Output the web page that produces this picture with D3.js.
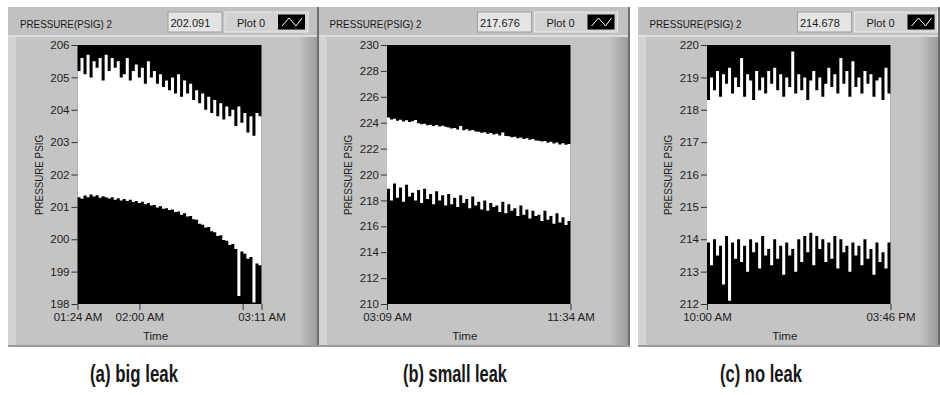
<!DOCTYPE html>
<html>
<head>
<meta charset="utf-8">
<title>Pressure leak charts</title>
<script src="https://cdn.jsdelivr.net/npm/d3@7/dist/d3.min.js"></script>
<style>
  body { margin: 0; background: #ffffff; }
  svg { display: block; font-family: "Liberation Sans", Arial, sans-serif; }
</style>
</head>
<body>
<svg id="chart" width="940" height="395"></svg>
<script>
  // Values: for each time slot the top and
  // bottom of the (very noisy) white trace, in PSIG.
  const bigHigh = [
    205.2, 205.6, 205.1, 205.7, 205.0, 205.5, 205.3, 205.6, 204.9, 205.7,
    205.2, 205.6, 205.3, 205.5, 205.0, 205.1, 205.6, 204.9, 205.2, 205.4,
    205.0, 205.3, 204.8, 205.5, 205.0, 205.2, 204.8, 205.1, 204.7, 204.9,
    204.6, 205.0, 204.5, 205.1, 204.4, 204.9, 204.5, 204.8, 204.3, 204.6,
    204.2, 204.5, 204.0, 204.4, 203.9, 204.3, 203.8, 204.2, 203.7, 204.1,
    203.8, 204.0, 203.5, 204.1, 203.6, 203.9, 203.3, 203.8, 203.2, 203.9,
    203.8
  ];
  const bigLow = [
    201.30, 201.25, 201.35, 201.30, 201.38, 201.32, 201.36, 201.28, 201.33, 201.30,
    201.26, 201.30, 201.22, 201.27, 201.20, 201.24, 201.18, 201.22, 201.15, 201.18,
    201.12, 201.16, 201.08, 201.12, 201.04, 201.06, 200.98, 201.02, 200.94, 200.96,
    200.90, 200.92, 200.84, 200.86, 200.76, 200.80, 200.70, 200.72, 200.62, 200.60,
    200.48, 200.45, 200.36, 200.38, 200.25, 200.22, 200.10, 200.12, 199.98, 199.95,
    199.82, 199.85, 199.70, 198.25, 199.62, 199.55, 199.40, 199.45, 198.05, 199.25,
    199.20
  ];
  const smallHigh = [
    224.40, 224.25, 224.30, 224.15, 224.22, 224.10, 224.18, 224.05, 224.12, 224.20,
    223.95, 223.88, 223.92, 223.80, 223.85, 223.75, 223.82, 223.70, 223.76, 223.68,
    223.62, 223.55, 223.60, 223.48, 223.75, 223.42, 223.50, 223.38, 223.44, 223.32,
    223.30, 223.22, 223.27, 223.15, 223.20, 223.08, 223.14, 223.02, 223.25, 222.98,
    222.95, 222.88, 222.92, 222.80, 222.86, 222.74, 222.80, 222.68, 222.75, 222.62,
    222.60, 222.55, 222.58, 222.45, 222.52, 222.40, 222.47, 222.32, 222.42, 222.30,
    222.35
  ];
  const smallLow = [
    218.9, 218.0, 219.3, 218.2, 219.0, 217.9, 219.2, 218.3, 218.6, 218.0,
    218.8, 217.8, 218.9, 218.1, 218.5, 217.7, 218.7, 218.0, 218.4, 217.6,
    218.5, 217.7, 218.2, 217.5, 218.4, 217.8, 218.1, 217.4, 218.3, 217.6,
    217.9, 217.3, 218.0, 217.2, 217.8, 217.5, 217.6, 217.1, 217.9, 217.0,
    217.7, 217.2, 217.4, 216.8, 217.6, 216.9, 217.3, 216.6, 217.2, 216.8,
    216.9, 216.4, 217.2, 216.5, 216.8, 216.2, 217.0, 216.3, 216.7, 216.1,
    216.4
  ];
  const noHigh = [
    218.3, 219.0, 218.6, 219.2, 218.4, 219.1, 218.8, 219.3, 218.5, 219.0,
    218.7, 219.6, 218.4, 219.1, 218.9, 218.3, 219.2, 218.6, 219.0, 218.5,
    219.2, 218.8, 219.3, 218.6, 219.1, 218.4, 219.0, 218.7, 219.8, 218.5,
    219.1, 218.6, 219.0, 218.3, 218.9, 219.2, 218.6, 219.0, 218.4, 218.8,
    219.3, 218.7, 219.1, 218.5, 219.6, 218.8, 219.2, 218.4, 219.5, 218.7,
    219.0, 218.5, 219.2, 218.8, 219.1, 218.4, 218.9, 219.0, 218.3, 219.3,
    218.5
  ];
  const noLow = [
    213.9, 213.2, 214.0, 213.5, 213.8, 212.6, 214.1, 212.1, 213.9, 213.4,
    214.0, 213.3, 213.8, 213.0, 214.0, 213.6, 213.9, 213.1, 214.1, 213.5,
    213.7, 213.2, 214.0, 213.4, 213.8, 212.9, 213.9, 213.5, 213.7, 213.0,
    214.0, 213.3, 214.1, 213.6, 214.2, 213.2, 214.1, 213.7, 214.0, 213.3,
    213.9, 213.4, 214.1, 213.1, 214.0, 213.6, 213.8, 213.0, 213.9, 213.5,
    213.8, 213.2, 214.0, 213.4, 213.7, 212.9, 213.9, 213.3, 213.6, 213.1,
    213.9
  ];

  // axis ticks (y in PSIG, x as 24h clock, x labels as printed)
  const bigYTicks = [198, 199, 200, 201, 202, 203, 204, 205, 206];
  const smallYTicks = [210, 212, 214, 216, 218, 220, 222, 224, 226, 228, 230];
  const noYTicks = [212, 213, 214, 215, 216, 217, 218, 219, 220];
  const bigXTicks = ['01:24', '02:00', '03:00', '03:11'];
  const bigXLabels = ['01:24 AM', '02:00 AM', '', '03:11 AM'];
  const smallXTicks = ['03:09', '11:34'];
  const smallXLabels = ['03:09 AM', '11:34 AM'];
  const noXTicks = ['10:00', '15:46'];
  const noXLabels = ['10:00 AM', '03:46 PM'];
  const readouts = ['202.091', '217.676', '214.678'];
  const captions = ['(a) big leak', '(b) small leak', '(c) no leak'];

  const parseTime = d3.timeParse('%H:%M');

  // page layout of the three front-panel graphs
  const layout = [
    { left: 8, right: 319, plotL: 77.5, plotR: 261.5, capX: 134, capW: 88 },
    { left: 319, right: 630, plotL: 387, plotR: 570.5, capX: 455, capW: 104 },
    { left: 638, right: 940, plotL: 707, plotR: 890.5, capX: 761, capW: 82 }
  ];
  const series = [
    { high: bigHigh, low: bigLow, yTicks: bigYTicks, xTicks: bigXTicks, xLabels: bigXLabels },
    { high: smallHigh, low: smallLow, yTicks: smallYTicks, xTicks: smallXTicks, xLabels: smallXLabels },
    { high: noHigh, low: noLow, yTicks: noYTicks, xTicks: noXTicks, xLabels: noXLabels }
  ];

  const plotTop = 45, plotBottom = 304;
  const svg = d3.select('#chart');

  const defs = svg.append('defs');
  const shade = defs.append('linearGradient').attr('id', 'rightShade')
    .attr('x1', 0).attr('x2', 1).attr('y1', 0).attr('y2', 0);
  shade.append('stop').attr('offset', '0%').attr('stop-color', '#c4c4c4');
  shade.append('stop').attr('offset', '100%').attr('stop-color', '#9c9c9c');

  layout.forEach((p, k) => {
    const s = series[k];
    const g = svg.append('g').attr('class', 'panel');

    // panel body, title strip and 3D edges
    g.append('rect').attr('x', p.left).attr('y', 7).attr('width', p.right - p.left).attr('height', 340)
      .attr('fill', '#c4c4c4');
    g.append('rect').attr('x', p.left).attr('y', 7).attr('width', p.right - p.left).attr('height', 28)
      .attr('fill', '#c1c1c1');
    g.append('rect').attr('x', p.left).attr('y', 35).attr('width', p.right - p.left).attr('height', 2)
      .attr('fill', '#dedede');
    g.append('rect').attr('x', p.left).attr('y', 37).attr('width', 8).attr('height', 308)
      .attr('fill', '#d3d3d3');
    g.append('rect').attr('x', p.right - 20).attr('y', 37).attr('width', 18).attr('height', 308)
      .attr('fill', 'url(#rightShade)');
    g.append('rect').attr('x', p.right - 2).attr('y', 7).attr('width', 2).attr('height', 340)
      .attr('fill', '#6e6e6e');
    g.append('rect').attr('x', p.left).attr('y', 345).attr('width', p.right - p.left).attr('height', 2)
      .attr('fill', '#9a9a9a');

    // title and digital readout
    g.append('text').attr('x', p.plotL - 57.5).attr('y', 28)
      .attr('font-size', '11px').attr('fill', '#1a1a1a')
      .attr('textLength', 92).attr('lengthAdjust', 'spacingAndGlyphs')
      .text('PRESSURE(PSIG) 2');
    g.append('rect').attr('x', p.plotL + 90.5).attr('y', 12).attr('width', 54).attr('height', 20)
      .attr('fill', '#e4e4e4').attr('stroke', '#a0a0a0').attr('stroke-width', 1);
    g.append('text').attr('x', p.plotL + 93).attr('y', 27)
      .attr('font-size', '11px').attr('fill', '#1a1a1a').text(readouts[k]);

    // plot legend
    g.append('rect').attr('x', p.plotL + 147.5).attr('y', 12).attr('width', 83).attr('height', 20)
      .attr('fill', '#d2d2d2').attr('stroke', '#ececec').attr('stroke-width', 1);
    g.append('text').attr('x', p.plotL + 159.5).attr('y', 27)
      .attr('font-size', '11px').attr('fill', '#1a1a1a').text('Plot 0');
    const ix = p.plotL + 200.5;
    g.append('rect').attr('x', ix).attr('y', 14.5).attr('width', 27).attr('height', 15).attr('fill', '#000');
    g.append('path').attr('d', `M${ix + 4},${26} L${ix + 11},${18} L${ix + 18},${26} L${ix + 24},${18}`)
      .attr('fill', 'none').attr('stroke', '#fff').attr('stroke-width', 1);

    // scales
    const t0 = parseTime(s.xTicks[0]);
    const t1 = parseTime(s.xTicks[s.xTicks.length - 1]);
    const xScale = d3.scaleTime().domain([t0, t1]).range([p.plotL, p.plotR]);
    const yScale = d3.scaleLinear()
      .domain([s.yTicks[0], s.yTicks[s.yTicks.length - 1]])
      .range([plotBottom, plotTop]);

    g.append('rect').attr('x', p.plotL).attr('y', plotTop)
      .attr('width', p.plotR - p.plotL).attr('height', plotBottom - plotTop).attr('fill', '#000');

    // trace: one step per reading, filled white from its low to its high value
    const n = s.high.length;
    const slotTime = i => new Date(+t0 + (t1 - t0) * i / n);
    const steps = s.high.map((h, i) => ({ t: slotTime(i), hi: h, lo: s.low[i] }));
    steps.push({ t: t1, hi: s.high[n - 1], lo: s.low[n - 1] });
    const area = d3.area()
      .x(d => xScale(d.t))
      .y0(d => yScale(d.lo))
      .y1(d => yScale(d.hi))
      .curve(d3.curveStepAfter);
    g.append('path').datum(steps).attr('d', area).attr('fill', '#fff');

    // axes
    const yAxis = d3.axisLeft(yScale).tickValues(s.yTicks).tickSize(6).tickPadding(2)
      .tickFormat(d3.format('d'));
    const yg = g.append('g').attr('transform', `translate(${p.plotL},0)`).call(yAxis);
    yg.select('.domain').remove();
    yg.selectAll('.tick line').attr('stroke', '#333');
    yg.selectAll('.tick text').attr('font-size', '11.5px').attr('fill', '#1e1e1e')
      .attr('font-family', '"Liberation Sans", Arial, sans-serif');

    const xAxis = d3.axisBottom(xScale).tickValues(s.xTicks.map(parseTime))
      .tickSize(6).tickPadding(3).tickFormat((d, i) => s.xLabels[i]);
    const xg = g.append('g').attr('transform', `translate(0,${plotBottom})`).call(xAxis);
    xg.select('.domain').remove();
    xg.selectAll('.tick line').attr('stroke', '#333');
    xg.selectAll('.tick text').attr('font-size', '11.5px').attr('fill', '#1e1e1e')
      .attr('font-family', '"Liberation Sans", Arial, sans-serif');

    // axis names
    g.append('text').attr('x', (p.plotL + p.plotR) / 2 - 14).attr('y', 340)
      .attr('text-anchor', 'middle').attr('font-size', '11.5px').attr('fill', '#1e1e1e').text('Time');
    g.append('text').attr('transform', `translate(${p.plotL - 35},${175}) rotate(-90)`)
      .attr('text-anchor', 'middle').attr('font-size', '11px').attr('fill', '#1e1e1e')
      .attr('textLength', 80).attr('lengthAdjust', 'spacingAndGlyphs')
      .text('PRESSURE PSIG');

    // caption under the panel
    svg.append('text').attr('x', p.capX).attr('y', 382)
      .attr('text-anchor', 'middle').attr('font-size', '24px').attr('font-weight', 'bold')
      .attr('font-family', '"Liberation Sans Narrow", "Liberation Sans", Arial, sans-serif')
      .attr('fill', '#161616')
      .attr('textLength', p.capW).attr('lengthAdjust', 'spacingAndGlyphs')
      .text(captions[k]);
  });
</script>
</body>
</html>
